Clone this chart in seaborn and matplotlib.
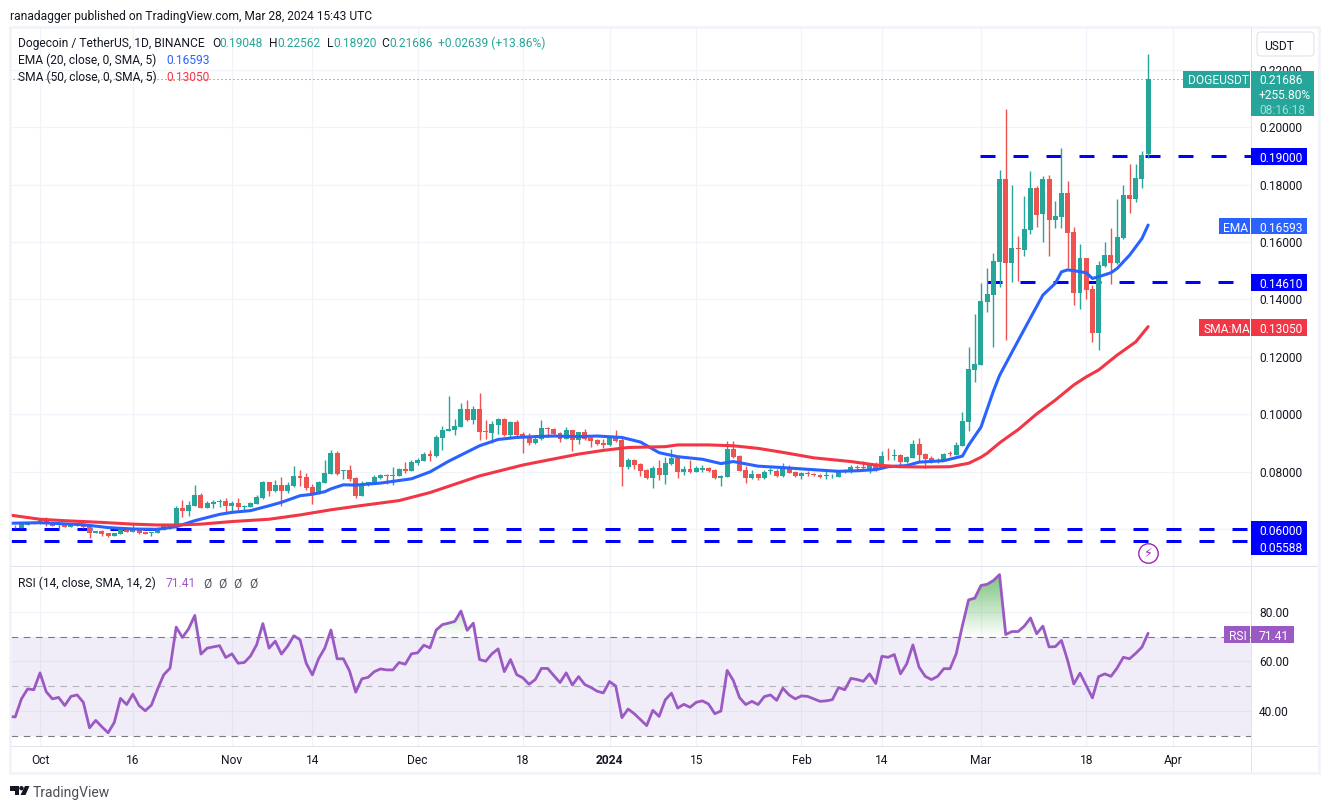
import numpy as np
import seaborn as sns
import matplotlib
matplotlib.use("Agg")
import matplotlib.pyplot as plt
from matplotlib.patches import Rectangle, FancyBboxPatch, Polygon, Circle
from matplotlib.path import Path
from matplotlib.transforms import IdentityTransform

# days counted from 1 Oct 2023, prices in 1/10000 USDT
first_day = -4
opens = [608,605,615,622,617,634,621,613,616,607,612,616,609,587,593,585,577,583,600,590,600,590,587,586,598,602,615,673,663,680,718,673,687,694,698,680,691,677,677,687,
         708,764,732,753,732,750,785,781,746,722,760,792,865,803,805,778,715,752,760,778,789,786,785,809,802,830,837,860,854,917,941,945,955,1018,980,1018,941,934,962,983,
         927,973,931,920,900,913,952,948,934,913,945,910,938,917,910,900,893,920,910,816,840,826,805,778,811,788,826,847,799,809,799,807,812,805,779,781,879,854,805,778,
         792,778,802,803,785,812,799,785,795,792,787,785,783,781,803,799,816,815,808,826,809,852,853,858,833,847,896,861,847,838,840,864,858,889,973,1154,1171,1391,1415,1530,
         1819,1526,1579,1572,1641,1788,1697,1819,1676,1687,1770,1634,1422,1544,1436,1283,1516,1554,1526,1614,1763,1749,1819,1905]
highs = [613,619,623,627,635,642,626,619,620,619,621,619,612,593,598,586,587,602,601,617,603,591,591,607,616,619,680,701,698,753,725,698,701,704,708,698,708,684,695,718,
         767,765,771,781,764,819,805,795,757,767,840,875,873,805,823,780,767,765,788,793,790,816,812,833,840,847,868,874,927,959,1063,983,1039,1049,1028,1074,980,976,987,987,
         975,980,938,934,924,980,955,952,938,955,946,939,948,927,913,913,922,945,920,847,844,829,809,819,840,851,879,848,819,840,819,823,816,809,787,907,907,858,819,805,
         793,805,812,809,830,823,802,799,802,795,792,802,792,805,809,823,823,837,826,833,872,882,879,861,854,910,917,865,854,847,865,872,903,1008,1234,1349,1456,1509,1561,1850,
         2063,1798,1620,1760,1847,1795,1829,1833,1742,1927,1812,1652,1593,1546,1450,1533,1600,1648,1749,1798,1871,1871,1917,2256]
lows = [602,603,614,616,616,612,609,601,606,606,610,605,569,587,577,573,576,581,588,588,584,583,576,585,597,600,613,642,645,679,672,672,673,677,659,656,666,665,675,686,
        704,715,729,680,725,746,750,736,687,721,759,790,789,774,767,708,714,751,759,774,757,753,783,795,801,823,836,837,851,875,940,927,954,976,966,910,913,900,931,924,
        920,920,865,893,896,910,920,927,903,912,872,896,910,886,893,882,889,903,750,809,809,785,774,743,771,757,823,778,788,795,797,799,799,774,750,780,847,801,760,774,
        771,774,792,781,781,794,781,774,785,785,778,774,778,780,795,795,802,809,795,802,808,840,840,819,830,846,833,812,830,830,839,854,857,888,941,1112,1170,1356,1234,1443,
        1258,1460,1464,1551,1627,1652,1600,1551,1648,1648,1509,1380,1366,1401,1251,1223,1514,1453,1523,1610,1701,1739,1788,1892]
closes = [606,616,621,619,633,619,612,616,607,616,619,607,586,593,584,576,586,600,590,600,586,584,590,600,614,616,673,663,684,718,673,691,695,698,680,691,677,679,691,711,
          764,732,753,732,753,785,779,743,718,764,795,865,792,805,774,715,757,764,781,788,786,788,809,802,833,840,861,854,920,945,948,959,1018,980,1018,938,938,966,983,927,
          973,927,917,900,913,952,948,931,913,945,910,938,913,906,896,894,920,906,816,840,823,802,778,812,788,830,847,799,809,799,812,811,802,778,785,879,851,802,778,792,
          778,799,804,783,812,795,785,795,792,787,781,788,786,802,799,816,812,811,823,809,854,850,857,833,851,896,858,844,833,841,861,860,893,976,1157,1175,1394,1418,1533,1819,
          1526,1579,1575,1645,1788,1694,1819,1676,1690,1770,1631,1422,1544,1432,1283,1519,1554,1526,1617,1763,1749,1823,1903,2169]

ema_days = [-5,0,7,11,15,19,21,22,25,29,31,34,37,39,42,44,46,47,49,51,55,60,63,66,71,74,77,80,83,87,90,94,97,100,103,107,110,112,116,120,124,129,132,135,137,140,142,146,149,150,152,154,155,157,158,160,162,164,165,166,167,169,170,171,173,174,176,178,179]
ema_values = [620,622,615,605,600,599,605,608,629,651,658,664,681,693,716,721,730,740,754,753,760,775,799,836,890,912,919,922,924,922,924,919,903,866,852,843,828,835,819,814,808,801,803,807,817,821,833,838,854,892,955,1080,1135,1216,1256,1336,1415,1456,1496,1503,1500,1493,1473,1479,1493,1508,1554,1612,1659]
sma_days = [-5,0,4,10,15,19,22,26,31,37,42,47,52,58,63,71,78,82,87,91,95,101,103,108,112,116,120,125,131,135,139,143,147,150,152,153,155,157,158,161,164,167,169,171,174,177,179]
sma_values = [649,634,629,623,617,614,614,617,626,634,649,667,682,699,727,785,823,840,861,874,884,887,893,893,890,881,867,848,835,823,817,816,817,829,850,864,900,931,946,1001,1049,1102,1130,1154,1206,1252,1305]

rsi_first_day = -5
rsi_values = [37.8,37.6,44.9,48.9,48.6,55.4,47.8,44.9,45.5,42.2,45.9,46.5,43.5,33.2,36.2,33.6,31.2,35.4,45.1,42.6,46.8,42.2,40.1,42.4,48.9,54.7,57.3,73.9,69.7,73.2,78.6,63,65.4,65.9,66.4,
              61.6,63.1,59.3,59.6,62.2,66.8,75.3,65.4,68.2,63,66.2,70.4,68.8,59.3,54.6,61.1,65.4,72.7,61.1,61.1,56.2,47.6,53,53.6,55.9,57,56.6,56.6,59.6,58.9,63.1,63.5,66.6,65.5,72.7,
              74.9,75.5,76.2,80.4,72.6,75.5,60.8,60.1,63.1,65.1,55.9,60.8,54.7,53.4,50.8,52.7,57.2,57.2,54.3,51.5,55.4,50.5,53.9,50.7,49.5,48,47.3,51.9,50.1,37.3,40.8,38.9,36.5,34.1,40.3,
              37.8,44.5,47.2,41.2,42.7,41.5,43.5,44.1,42.8,38.9,40,56.4,52.3,45.4,42.6,43.9,42.6,45.8,46.5,44.3,49.2,46.5,44.9,46.1,45.9,44.9,43.9,44.1,44.6,49.5,48.6,53.2,52.7,52,55,51.1,
              62.1,61.7,62.8,55,59,66.7,57.7,54,52.7,54,57.1,57.1,63.1,74.5,84.9,85.6,90.7,91.2,92.7,95.1,70.9,72.1,72.1,74.3,77.6,71.2,74.3,65.9,66,68.5,60.4,50.9,55.3,50.3,45.3,53.9,55,54,57.4,61.7,61.1,63.3,65.8,71.41]

price_ticks = [0.06, 0.08, 0.10, 0.12, 0.14, 0.16, 0.18, 0.20, 0.22]
rsi_ticks = [40, 60, 80]
time_ticks = [0, 15, 31, 44, 61, 78, 92, 106, 123, 136, 152, 169, 183]
time_labels = ["Oct", "16", "Nov", "14", "Dec", "18", "2024", "15", "Feb", "14", "Mar", "18", "Apr"]
level_values = [0.19, 0.1461, 0.06, 0.05588]
level_starts = [151.9, 153, -4.7, -4.7]
last_price = 0.21686

GREEN = "#26a69a"
RED = "#ef5350"
BLUE = "#2962ff"
SMA_RED = "#f23645"
PURPLE = "#9b59c4"
GRID = "#f0f3fa"
BORDER = "#e0e3eb"
INK = "#131722"
W, H = 1329, 809


def fx(x):
    return x / W


def fy(y):
    return 1 - y / H


def label(x, y, s, color=INK, ha="left", **kw):
    fig.text(fx(x), fy(y), s, color=color, ha=ha, va="center_baseline", fontsize=8.64, **kw)


def box(x0, x1, y0, y1, color, z=2):
    fig.add_artist(Rectangle((x0, H - y1), x1 - x0, y1 - y0, transform=IdentityTransform(),
                             facecolor=color, edgecolor="none", zorder=z))


sns.set_style("white")
plt.rcParams["font.family"] = ["Roboto", "DejaVu Sans"]

opens = np.array(opens) / 1e4
highs = np.array(highs) / 1e4
lows = np.array(lows) / 1e4
closes = np.array(closes) / 1e4
days = np.arange(first_day, first_day + len(opens))
rsi_values = np.array(rsi_values)
rsi_days = np.arange(rsi_first_day, rsi_first_day + len(rsi_values))

fig = plt.figure(figsize=(W / 100, H / 100), dpi=100, facecolor="white")
ax = fig.add_axes([fx(11), fy(566), (1251.5 - 11) / W, (566 - 28) / H])
ax_rsi = fig.add_axes([fx(11), fy(746), (1251.5 - 11) / W, (746 - 567) / H])

# price pane
for v, start in zip(level_values, level_starts):
    ax.plot([start, 196], [v, v], color="#0000ff", lw=2.16, dashes=(5, 6), zorder=2)
ax.plot([-5, 184.5], [last_price, last_price], color=GREEN, lw=0.8, dashes=(1, 2.6), zorder=2)

up = closes >= opens
colors = np.where(up, GREEN, RED)
ax.vlines(days, lows, highs, colors=colors, lw=1.0, zorder=3)
ax.bar(days, np.abs(closes - opens), bottom=np.minimum(opens, closes), width=0.8,
       color=colors, linewidth=0, zorder=3)

sns.lineplot(x=ema_days, y=np.array(ema_values) / 1e4, ax=ax, color=BLUE, lw=2.2, zorder=4)
sns.lineplot(x=sma_days, y=np.array(sma_values) / 1e4, ax=ax, color=SMA_RED, lw=2.2, zorder=4)

ax.plot([179], [0.0516], "o", ms=14, mfc="white", mec="#9c27b0", mew=1.0, zorder=5)
ax.text(179, 0.0516, "\u26a1", color="#9c27b0", fontsize=9, ha="center", va="center",
        family="DejaVu Sans", zorder=6)

ax.set_xlim(-4.685, 195.7)
ax.set_ylim(0.04711, 0.23457)
ax.set_yticks(price_ticks)
ax.set_yticklabels([f"{v:.5f}" for v in price_ticks])
ax.set_xticks(time_ticks)
ax.tick_params(axis="x", length=0, labelbottom=False)
ax.set_xlabel("")
ax.set_ylabel("")

# rsi pane
ax_rsi.axhspan(30, 70, color="#7e57c2", alpha=0.1, lw=0, zorder=1)
for v, c in [(70, "#787b86"), (50, "#b2b5be"), (30, "#787b86")]:
    ax_rsi.axhline(v, color=c, lw=0.8, dashes=(6, 5), zorder=2)

over = ax_rsi.fill_between(rsi_days, rsi_values, 70, where=rsi_values > 70, interpolate=True, alpha=0, lw=0)
shade = np.zeros((256, 1, 4))
shade[..., :3] = (0.30, 0.69, 0.31)
shade[:, 0, 3] = np.linspace(0, 0.75, 256)
img = ax_rsi.imshow(shade, extent=[-5, 196, 70, rsi_values.max()], origin="lower", aspect="auto", zorder=1.5)
img.set_clip_path(Path.make_compound_path(*over.get_paths()), ax_rsi.transData)

sns.lineplot(x=rsi_days, y=rsi_values, ax=ax_rsi, color=PURPLE, lw=2.0, zorder=4)
ax_rsi.set_xlim(-4.685, 195.7)
ax_rsi.set_ylim(25.86, 98.18)
ax_rsi.set_yticks(rsi_ticks)
ax_rsi.set_yticklabels([f"{v:.2f}" for v in rsi_ticks])
ax_rsi.set_xticks(time_ticks)
ax_rsi.set_xticklabels(time_labels)
ax_rsi.set_xlabel("")
ax_rsi.set_ylabel("")
ax_rsi.get_xticklabels()[time_labels.index("2024")].set_fontweight("bold")
ax_rsi.tick_params(axis="x", length=0, labelsize=8.64, labelcolor=INK, pad=6)

for a in (ax, ax_rsi):
    a.yaxis.tick_right()
    a.tick_params(axis="y", length=0, labelsize=8.64, labelcolor=INK, pad=5.5)
    a.grid(True, color=GRID, lw=0.9, zorder=0)
    a.set_axisbelow(True)
    for s in a.spines.values():
        s.set_visible(False)
    a.patch.set_alpha(0)

# frame and pane borders
fig.add_artist(Rectangle((10, H - 773), 1309, 746, transform=IdentityTransform(), fill=False,
                         edgecolor=GRID, lw=1.8, zorder=1))
box(11, 1318, 566, 567.4, BORDER, 1)
box(11, 1318, 746, 747.4, BORDER, 1)
box(1251, 1252.4, 28, 772, BORDER, 1)

# price scale tags
fig.add_artist(FancyBboxPatch((1257, H - 56), 57, 24, boxstyle="round,pad=0,rounding_size=4",
                              transform=IdentityTransform(), facecolor="white", edgecolor=BORDER, lw=0.8, zorder=2))
label(1264, 44.5, "USDT")
box(1183, 1250, 71, 88, GREEN)
label(1188, 79.5, "DOGEUSDT", color="white")
box(1251, 1314, 71, 116, GREEN)
label(1259, 79.5, "0.21686", color="white")
label(1259, 94, "+255.80%", color="white")
label(1259, 108.5, "08:16:18", color="#a9dbd7")
box(1251, 1307, 148, 165, "#0000ff")
label(1259, 156.5, "0.19000", color="white")
box(1219, 1250, 218, 234, BLUE)
label(1223, 226.5, "EMA", color="white")
box(1251, 1307, 218, 234, BLUE)
label(1259, 226.5, "0.16593", color="white")
box(1251, 1307, 274, 291, "#0000ff")
label(1259, 283, "0.14610", color="white")
box(1199, 1250, 319, 336, SMA_RED)
label(1203, 327.5, "SMA:MA", color="white")
box(1251, 1307, 319, 336, SMA_RED)
label(1259, 327.5, "0.13050", color="white")
box(1251, 1307, 521, 555, "#0000ff")
label(1259, 530, "0.06000", color="white")
label(1259, 547, "0.05588", color="white")
box(1224, 1250, 626, 643, PURPLE)
label(1229, 634.5, "RSI", color="white")
box(1251, 1294, 626, 643, PURPLE)
label(1259, 634.5, "71.41", color="white")

# header
label(10, 15, "ranadagger published on TradingView.com, Mar 28, 2024 15:43 UTC")
label(18, 42, "Dogecoin / TetherUS, 1D, BINANCE")
for x, s in [(212, "O"), (269, "H"), (327, "L"), (381, "C")]:
    label(x, 42, s)
for x, s in [(219, "0.19048"), (277, "0.22562"), (333, "0.18920"), (389, "0.21686"), (438, "+0.02639 (+13.86%)")]:
    label(x, 42, s, color=GREEN)
label(18, 59, "EMA (20, close, 0, SMA, 5)")
label(166, 59, "0.16593", color=BLUE)
label(18, 76, "SMA (50, close, 0, SMA, 5)")
label(166, 76, "0.13050", color=SMA_RED)
label(18, 582, "RSI (14, close, SMA, 14, 2)")
label(166, 582, "71.41", color=PURPLE)
for x in (203.5, 218.5, 233, 249):
    label(x, 582, "\u00d8", color="#50535e")

# logo
fig.add_artist(Polygon([(10, H - 786), (19, H - 786), (19, H - 795), (14.5, H - 795), (14.5, H - 790.5), (10, H - 790.5)],
                       transform=IdentityTransform(), facecolor=INK, edgecolor="none"))
fig.add_artist(Circle((21.5, H - 788.2), 2.2, transform=IdentityTransform(), facecolor=INK, edgecolor="none"))
fig.add_artist(Polygon([(25, H - 786), (29.5, H - 786), (25.5, H - 795), (20.5, H - 795)],
                       transform=IdentityTransform(), facecolor=INK, edgecolor="none"))
fig.text(fx(33), fy(791), "TradingView", color="#4a4d57", fontsize=10, ha="left", va="center_baseline")

fig.savefig("out.png", dpi=100, facecolor="white")
